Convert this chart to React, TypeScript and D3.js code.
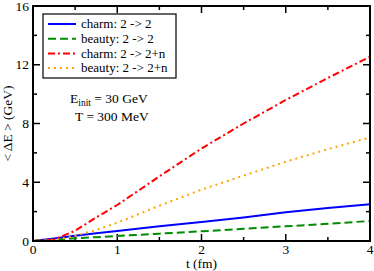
import React, { useEffect, useRef } from "react";
import * as d3 from "d3";

// time in fm
const times = [0, 0.25, 0.5, 0.75, 1, 1.5, 2, 2.5, 3, 3.5, 4];
// <dE> in GeV
const charmElastic = [0, 0.17, 0.35, 0.52, 0.68, 1.0, 1.3, 1.6, 1.95, 2.25, 2.5];
const beautyElastic = [0, 0.09, 0.18, 0.26, 0.34, 0.5, 0.66, 0.83, 1.0, 1.18, 1.36];
const charmRad = [0, 0.1, 0.7, 1.6, 2.45, 4.4, 6.3, 8.0, 9.6, 11.1, 12.55];
const beautyRad = [0, 0.05, 0.35, 0.75, 1.25, 2.4, 3.5, 4.45, 5.4, 6.25, 7.05];

const xTicks = [0, 1, 2, 3, 4];
const yTicks = [0, 4, 8, 12, 16];

const seriesNames = ["charm: 2 -> 2", "beauty: 2 -> 2", "charm: 2 -> 2+n", "beauty: 2 -> 2+n"];
const seriesValues = [charmElastic, beautyElastic, charmRad, beautyRad];
const seriesColors = ["#0000ff", "#008b00", "#ff0000", "#ffa500"];
const seriesDash = ["none", "8,4", "7,3,2,3", "2,4"];

const FONT = "Liberation Serif";

export default function App() {
  const ref = useRef<SVGSVGElement>(null);

  useEffect(() => {
    const width = 374;
    const height = 271;
    const margin = { top: 6, right: 4, bottom: 30, left: 33 };
    const innerWidth = width - margin.left - margin.right;
    const innerHeight = height - margin.top - margin.bottom;

    const svg = d3.select(ref.current);
    svg.selectAll("*").remove();

    const g = svg.append("g").attr("transform", `translate(${margin.left},${margin.top})`);

    const x = d3.scaleLinear().domain([0, 4]).range([0, innerWidth]);
    const y = d3.scaleLinear().domain([0, 16]).range([innerHeight, 0]);

    const xMinor = d3.range(0.5, 4, 1);
    const yMinor = d3.range(2, 16, 4);

    // ticks pointing inward on all four sides
    const tickGroup = g.append("g").attr("stroke", "#000").attr("stroke-width", 1.5);
    xTicks.concat(xMinor).forEach((t) => {
      const len = xTicks.includes(t) ? 7 : 4;
      tickGroup.append("line").attr("x1", x(t)).attr("x2", x(t)).attr("y1", innerHeight).attr("y2", innerHeight - len);
      tickGroup.append("line").attr("x1", x(t)).attr("x2", x(t)).attr("y1", 0).attr("y2", len);
    });
    yTicks.concat(yMinor).forEach((t) => {
      const len = yTicks.includes(t) ? 7 : 4;
      tickGroup.append("line").attr("x1", 0).attr("x2", len).attr("y1", y(t)).attr("y2", y(t));
      tickGroup.append("line").attr("x1", innerWidth).attr("x2", innerWidth - len).attr("y1", y(t)).attr("y2", y(t));
    });

    g.selectAll(".xlab")
      .data(xTicks)
      .join("text")
      .attr("x", (d) => x(d))
      .attr("y", innerHeight + 13)
      .attr("text-anchor", "middle")
      .style("font-family", FONT)
      .style("font-size", "13.5px")
      .text((d) => d);

    g.selectAll(".ylab")
      .data(yTicks)
      .join("text")
      .attr("x", -4)
      .attr("y", (d) => y(d) + 4.5)
      .attr("text-anchor", "end")
      .style("font-family", FONT)
      .style("font-size", "13.5px")
      .text((d) => d);

    const line = d3
      .line<number>()
      .x((_, i) => x(times[i]))
      .y((d) => y(d));

    g.append("defs")
      .append("clipPath")
      .attr("id", "plotclip")
      .append("rect")
      .attr("width", innerWidth)
      .attr("height", innerHeight);

    const plot = g.append("g").attr("clip-path", "url(#plotclip)");
    seriesValues.forEach((vals, i) => {
      plot
        .append("path")
        .datum(vals)
        .attr("d", line)
        .attr("fill", "none")
        .attr("stroke", seriesColors[i])
        .attr("stroke-width", 2)
        .attr("stroke-dasharray", seriesDash[i]);
    });

    // frame
    g.append("rect")
      .attr("width", innerWidth)
      .attr("height", innerHeight)
      .attr("fill", "none")
      .attr("stroke", "#000")
      .attr("stroke-width", 2);

    // legend
    const legend = g.append("g").attr("transform", `translate(${43 - margin.left},${14 - margin.top})`);
    legend.append("rect").attr("width", 133).attr("height", 64).attr("fill", "#fff").attr("stroke", "#000").attr("stroke-width", 1.2);
    seriesNames.forEach((name, i) => {
      const yy = 10 + i * 14.7;
      legend.append("line").attr("x1", 5).attr("x2", 33).attr("y1", yy).attr("y2", yy)
        .attr("stroke", seriesColors[i]).attr("stroke-width", 2).attr("stroke-dasharray", seriesDash[i]);
      legend.append("text").attr("x", 38).attr("y", yy + 4.3)
        .style("font-family", FONT).style("font-size", "13px").text(name);
    });

    // annotation
    const ann = svg.append("text").attr("x", 70).attr("y", 103).style("font-family", FONT).style("font-size", "13.5px");
    ann.append("tspan").text("E");
    ann.append("tspan").attr("dy", 3).style("font-size", "9.5px").text("init");
    ann.append("tspan").attr("dy", -3).text(" = 30 GeV");
    svg.append("text").attr("x", 75).attr("y", 121).style("font-family", FONT).style("font-size", "13.5px").text("T = 300 MeV");

    // axis titles
    svg.append("text")
      .attr("x", margin.left + x(2))
      .attr("y", 268)
      .attr("text-anchor", "middle")
      .style("font-family", FONT)
      .style("font-size", "13.5px")
      .text("t (fm)");

    svg.append("text")
      .attr("transform", `translate(12,${margin.top + innerHeight / 2}) rotate(-90)`)
      .attr("text-anchor", "middle")
      .style("font-family", FONT)
      .style("font-size", "13.5px")
      .text("< ΔE > (GeV)");
  }, []);

  return <svg ref={ref} width={374} height={271} style={{ position: "absolute", left: 0, top: 0 }} />;
}
